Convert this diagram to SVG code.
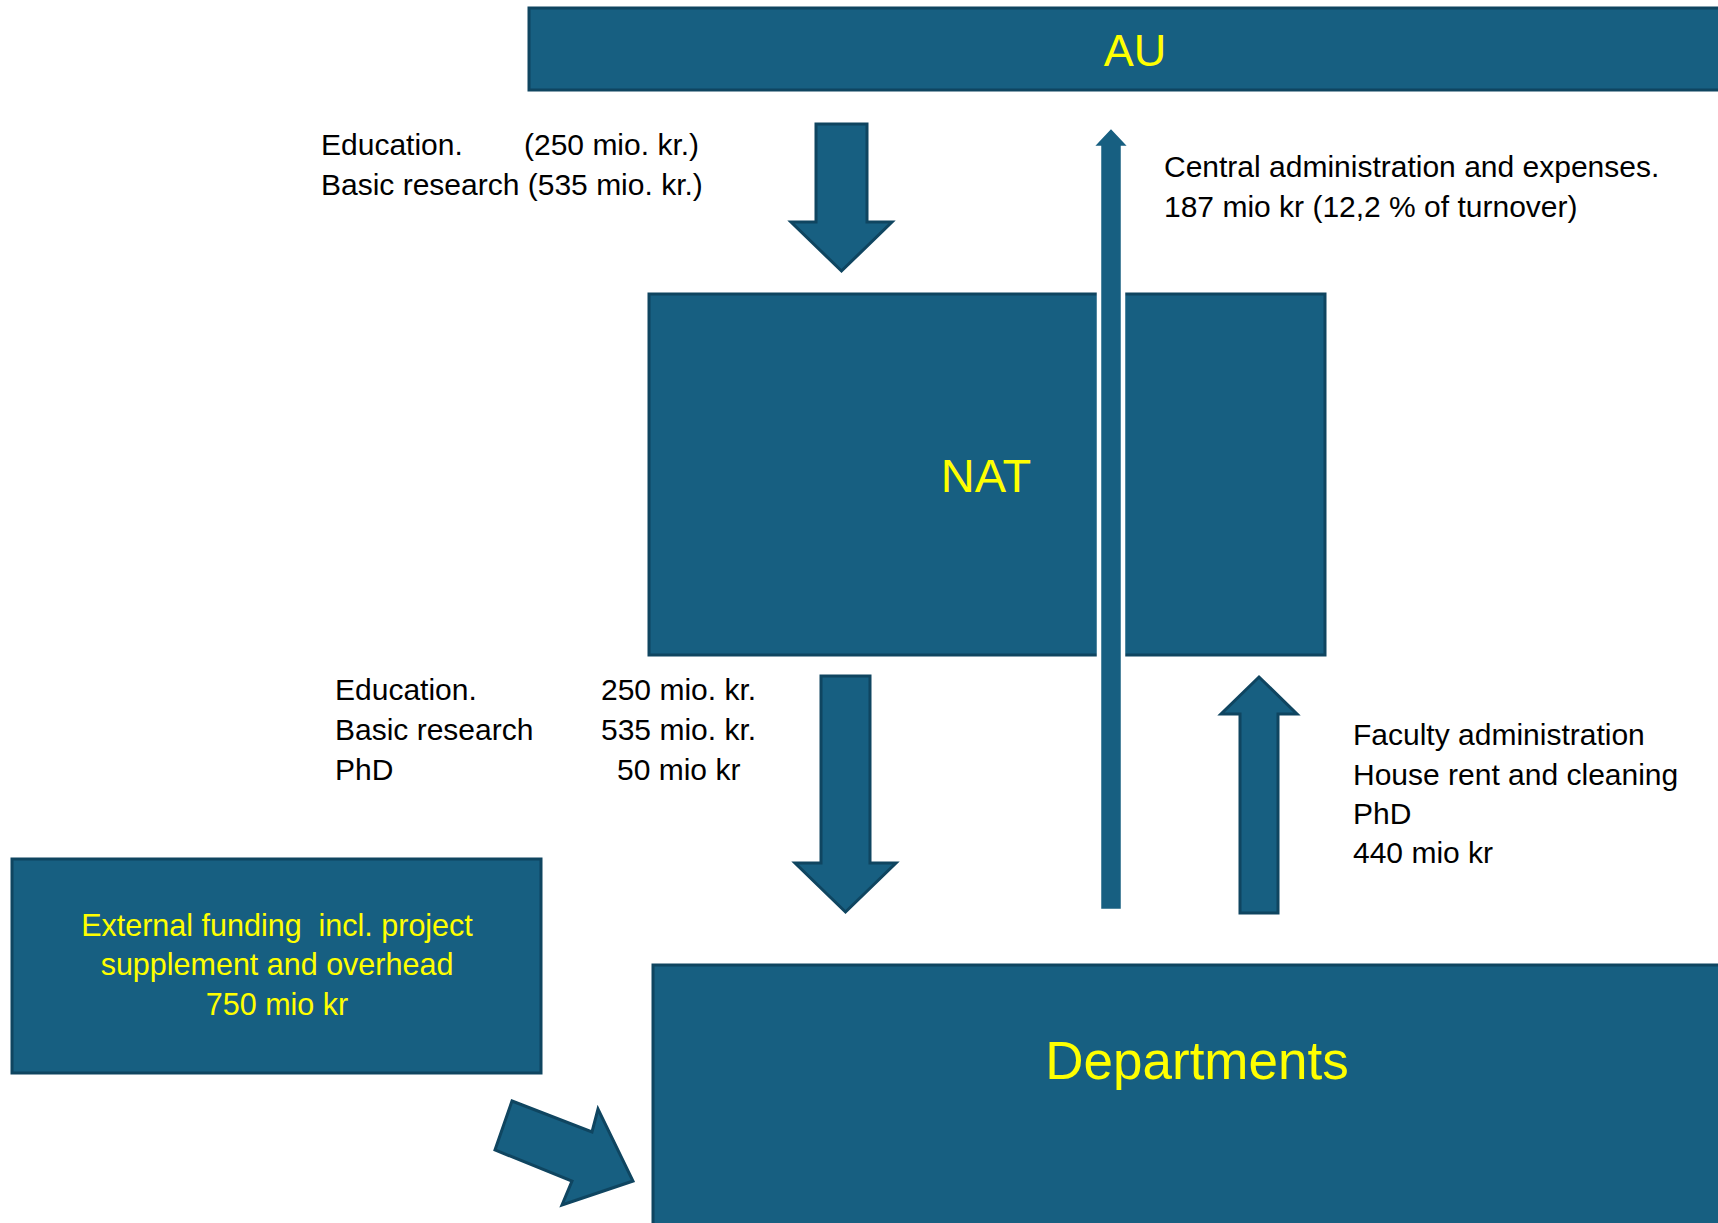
<svg xmlns="http://www.w3.org/2000/svg" width="1718" height="1223" viewBox="0 0 1718 1223">
<style>
.box{fill:#175f81;stroke:#0f4560;stroke-width:3}
.arr{fill:#175f81;stroke:#0f4560;stroke-width:3;stroke-linejoin:miter}
.arrw{fill:#175f81;stroke:#ffffff;stroke-width:4.5}
.lbl{font-family:"Liberation Sans",Arial,sans-serif;font-size:30px;fill:#000000}
.yl{font-family:"Liberation Sans",Arial,sans-serif;fill:#ffff00}
</style>
<rect width="1718" height="1223" fill="#ffffff"/>
<g id="node-au">
<rect class="box" x="529" y="8" width="1195" height="82"/>
<text class="yl" x="1135" y="66" font-size="45" text-anchor="middle">AU</text>
</g>
<g id="node-nat">
<rect class="box" x="649" y="294" width="676" height="361"/>
<text class="yl" x="986" y="492" font-size="47" text-anchor="middle">NAT</text>
</g>
<g id="node-departments">
<rect class="box" x="653" y="965" width="1070" height="270"/>
<text class="yl" x="1197" y="1079" font-size="53" text-anchor="middle">Departments</text>
</g>
<g id="node-external">
<rect class="box" x="12" y="859" width="529" height="214"/>
<text class="yl" font-size="30.5" text-anchor="middle" xml:space="preserve"><tspan x="277" y="936">External funding  incl. project</tspan><tspan x="277" y="975">supplement and overhead</tspan><tspan x="277" y="1015">750 mio kr</tspan></text>
</g>
<g id="connectors">
<polygon class="arr" points="816,124 867,124 867,222 892,222 841.5,271 791,222 816,222"/>
<polygon class="arrw" points="1111,126 1131.75,148 1123,148 1123,911 1099,911 1099,148 1090.25,148"/>
<polygon class="arr" points="821,676 870,676 870,863 896,863 845.5,912 795,863 821,863"/>
<polygon class="arr" points="1259,677 1297,714 1278,714 1278,913 1240,913 1240,714 1221,714"/>
<polygon class="arr" points="512,1101 592,1132 598,1109 633,1181 562,1205 572,1181 495,1150"/>
</g>
<g id="labels">
<text class="lbl"><tspan x="321" y="155">Education.</tspan><tspan x="524" y="155">(250 mio. kr.)</tspan></text>
<text class="lbl" x="321" y="195">Basic research (535 mio. kr.)</text>
<text class="lbl"><tspan x="1164" y="177">Central administration and expenses.</tspan><tspan x="1164" y="217">187 mio kr (12,2 % of turnover)</tspan></text>
<text class="lbl"><tspan x="335" y="700">Education.</tspan><tspan x="601" y="700">250 mio. kr.</tspan></text>
<text class="lbl"><tspan x="335" y="740">Basic research</tspan><tspan x="601" y="740">535 mio. kr.</tspan></text>
<text class="lbl"><tspan x="335" y="780">PhD</tspan><tspan x="617" y="780">50 mio kr</tspan></text>
<text class="lbl"><tspan x="1353" y="745">Faculty administration</tspan><tspan x="1353" y="785">House rent and cleaning</tspan><tspan x="1353" y="824">PhD</tspan><tspan x="1353" y="863">440 mio kr</tspan></text>
</g>
</svg>
